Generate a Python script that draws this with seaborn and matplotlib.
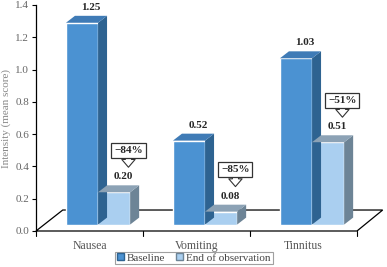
import numpy as np
import pandas as pd
import seaborn as sns
import matplotlib.pyplot as plt
from matplotlib.patches import Polygon, Patch

symptoms = ['Nausea', 'Vomiting', 'Tinnitus']
periods = ['Baseline', 'End of observation']
baseline = [1.25, 0.52, 1.03]
end_obs = [0.20, 0.08, 0.51]
change = ['\u221284%', '\u221285%', '\u221251%']

front = ['#4b92d2', '#aacff0']
side = ['#2e6391', '#6d8496']
top = ['#3f7bb6', '#8ca2b5']

df = pd.DataFrame({
    'symptom': symptoms * 2,
    'score': baseline + end_obs,
    'period': [periods[0]] * 3 + [periods[1]] * 3,
})

sns.set_style('white')
plt.rcParams['font.family'] = ['Liberation Serif', 'DejaVu Serif']

fig = plt.figure(figsize=(3.87, 2.67), dpi=100)
ax = fig.add_axes([36 / 387, 36 / 267, 321 / 387, 226 / 267])

sns.barplot(data=df, x='symptom', y='score', hue='period', palette=front,
            width=0.6, gap=0, saturation=1, legend=False, ax=ax, zorder=3)

ax.set_xlim(-0.5, 2.5)
ax.set_ylim(0, 1.4)

# pseudo 3d: shift bars into the floor, add side and top faces
dx, dy = 0.084, 0.043
sx, sy = 0.08, 0.04
for k, cont in enumerate(ax.containers):
    for bar in cont:
        bar.set_x(bar.get_x() + sx)
        bar.set_y(sy)
        bar.set_clip_on(False)
        x0 = bar.get_x()
        w = bar.get_width()
        h = bar.get_height()
        x1 = x0 + w
        y1 = sy + h
        ax.add_patch(Polygon([(x1, sy), (x1 + dx, sy + dy), (x1 + dx, y1 + dy), (x1, y1)],
                             facecolor=side[k], edgecolor='none', zorder=3, clip_on=False))
        ax.add_patch(Polygon([(x0, y1), (x0 + dx, y1 + dy), (x1 + dx, y1 + dy), (x1, y1)],
                             facecolor=top[k], edgecolor='none', zorder=3, clip_on=False))
        ax.text(x0 + w / 2 + dx, h + 0.135, f'{h:.2f}', ha='center', va='center',
                fontsize=8, fontweight='bold', zorder=5)
        if k == 1:
            i = int(round(x0 - sx + w / 2 - 0.15))
            xc = x0 + w / 2 + dx + 0.05
            ax.annotate(change[i], xy=(xc, h + 0.195), xytext=(xc, h + 0.30),
                        ha='center', va='center', fontsize=8, fontweight='bold', zorder=6,
                        bbox=dict(boxstyle='square,pad=0.25', fc='white', ec='#333333', lw=0.9),
                        arrowprops=dict(arrowstyle='simple,head_width=1.2,head_length=0.7,tail_width=0.55',
                                        fc='white', ec='#333333', lw=0.8, shrinkA=0, shrinkB=0))

# floor
floor = Polygon([(-0.5, 0), (-0.25, 0.13), (2.74, 0.13), (2.5, 0)],
                facecolor='white', edgecolor='black', lw=0.9, zorder=1, clip_on=False)
ax.add_patch(floor)

sns.despine(ax=ax, top=True, right=True, bottom=True)
ax.spines['left'].set_color('black')
ax.spines['left'].set_linewidth(0.9)

ax.set_yticks(np.arange(0, 1.41, 0.2))
ax.set_yticklabels([f'{v:.1f}' for v in np.arange(0, 1.41, 0.2)])
ax.tick_params(axis='y', left=True, length=3, width=0.8, color='black',
               labelsize=8, labelcolor='#666666', pad=2)
ax.set_xticks([0, 1, 2])
ax.set_xticklabels(symptoms)
ax.tick_params(axis='x', bottom=False, labelsize=8.5, labelcolor='#555555', pad=3)
for xt in [-0.5, 0.5, 1.5, 2.5]:
    ax.plot([xt, xt], [0, -0.03], color='black', lw=0.8, clip_on=False)
ax.set_xlabel('')
ax.set_ylabel('Intensity (mean score)', fontsize=8, color='#888888', labelpad=3)

handles = [Patch(facecolor=front[0], edgecolor=side[0]),
           Patch(facecolor=front[1], edgecolor=side[1])]
leg = ax.legend(handles, periods, loc='center', ncol=2,
                bbox_to_anchor=(194 / 387, 9 / 267), bbox_transform=fig.transFigure,
                fontsize=8, frameon=True, fancybox=False, handlelength=0.6, handleheight=0.6,
                handletextpad=0.3, columnspacing=1.0, borderpad=0.15, labelcolor='#444444')
leg.get_frame().set_edgecolor('#888888')
leg.get_frame().set_linewidth(0.8)

fig.savefig('out.png', dpi=100)
